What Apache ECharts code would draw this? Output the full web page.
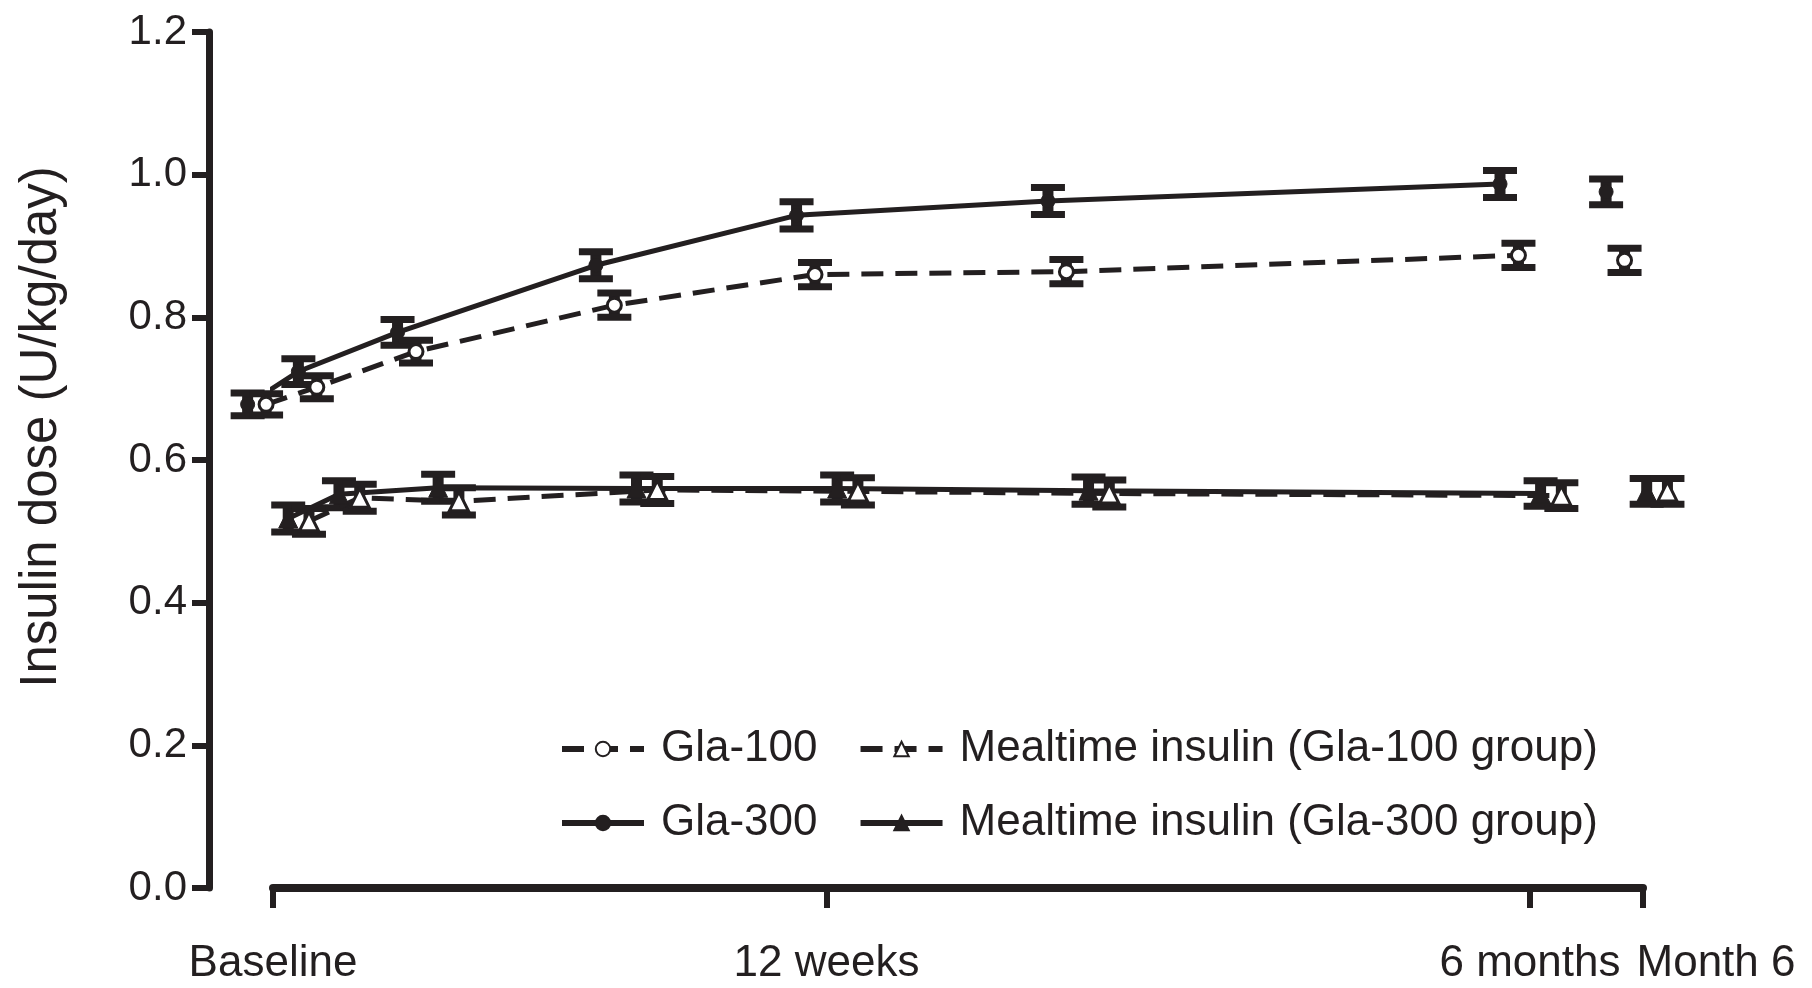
<!DOCTYPE html>
<html>
<head>
<meta charset="utf-8">
<script src="https://cdn.jsdelivr.net/npm/echarts@6/dist/echarts.min.js"></script>
<style>
    html, body { margin: 0; padding: 0; background: #fff; }
    #chart { width: 1812px; height: 988px; }
</style>
</head>
<body>
<div id="chart"></div>
<script>
    // time axis: Baseline = 0, 12 weeks = 12 (visits are drawn dodged per group)
    const visitPos = [0.1, 1.2, 3.35, 7.65, 12, 17.45, 27.25, 29.55];
    const tickValues = [0, 12, 27.25, 29.7];
    const tickLabels = ['Baseline', '12 weeks', '6 months', 'Month 6'];

    const names = ['Gla-100', 'Mealtime insulin (Gla-100 group)', 'Gla-300', 'Mealtime insulin (Gla-300 group)'];

    // insulin dose (U/kg/day), mean and SE; the last value (Month 6) is not joined
    const gla100 = [0.678, 0.702, 0.752, 0.817, 0.860, 0.864, 0.887, 0.880];
    const gla100Se = [0.015, 0.016, 0.016, 0.017, 0.017, 0.017, 0.017, 0.017];
    const gla300 = [0.678, 0.724, 0.779, 0.873, 0.943, 0.963, 0.987, 0.976];
    const gla300Se = [0.016, 0.018, 0.018, 0.019, 0.019, 0.019, 0.019, 0.018];
    const meal100 = [0.514, 0.547, 0.542, 0.558, 0.556, 0.553, 0.550, 0.556];
    const meal100Se = [0.018, 0.019, 0.019, 0.019, 0.019, 0.019, 0.018, 0.018];
    const meal300 = [0.518, 0.552, 0.561, 0.560, 0.560, 0.557, 0.553, 0.556];
    const meal300Se = [0.019, 0.019, 0.019, 0.019, 0.019, 0.019, 0.018, 0.018];

    const ink = '#231f20';
    const font = 'Liberation Sans, Arial, sans-serif';
    const lastJoined = 6;

    function lineSeries(name, values, shift, symbol, size, open, dashed) {
        let data = [];
        for (let i = 0; i < values.length; i++) {
            if (i === lastJoined + 1) data.push([visitPos[i] + shift, '-']);
            data.push([visitPos[i] + shift, values[i]]);
        }
        return {
            name: name,
            type: 'line',
            clip: false,
            z: 3,
            symbol: symbol,
            symbolSize: size,
            showAllSymbol: true,
            connectNulls: false,
            itemStyle: {
                color: open ? '#fff' : ink,
                borderColor: ink,
                borderWidth: open ? 3 : 1
            },
            lineStyle: {
                color: ink,
                width: 5,
                type: dashed ? [22, 12] : 'solid'
            },
            data: data
        };
    }

    function errorSeries(values, se, shift) {
        return {
            type: 'custom',
            name: 'se',
            z: 2,
            silent: true,
            data: values.map((v, i) => [visitPos[i] + shift, v - se[i], v + se[i]]),
            renderItem: function (params, api) {
                let lo = api.coord([api.value(0), api.value(1)]);
                let hi = api.coord([api.value(0), api.value(2)]);
                let w = 17;
                let st = { stroke: ink, lineWidth: 7 };
                return {
                    type: 'group',
                    children: [
                        { type: 'line', shape: { x1: lo[0], y1: lo[1], x2: hi[0], y2: hi[1] }, style: { stroke: ink, lineWidth: 11 } },
                        { type: 'line', shape: { x1: lo[0] - w, y1: lo[1], x2: lo[0] + w, y2: lo[1] }, style: st },
                        { type: 'line', shape: { x1: hi[0] - w, y1: hi[1], x2: hi[0] + w, y2: hi[1] }, style: st }
                    ]
                };
            }
        };
    }

    let chart = echarts.init(document.getElementById('chart'));

    let legendBase = {
        left: 554,
        itemWidth: 82,
        itemHeight: 18,
        itemGap: 40,
        lineStyle: { width: 6 },
        textStyle: { fontFamily: font, fontSize: 44, color: ink, padding: [0, 0, 0, 12] }
    };

    let option = {
        animation: false,
        backgroundColor: '#fff',
        grid: { left: 273, right: 169, top: 32, bottom: 100, outerBoundsMode: 'none' },
        legend: [
            Object.assign({}, legendBase, { top: 722, data: [names[0], names[1]] }),
            Object.assign({}, legendBase, { top: 796, data: [names[2], names[3]] })
        ],
        xAxis: {
            type: 'value',
            min: 0,
            max: 29.7,
            splitLine: { show: false },
            axisLine: { lineStyle: { color: ink, width: 8 } },
            axisTick: { customValues: tickValues, length: 20, lineStyle: { color: ink, width: 6 } },
            axisLabel: {
                customValues: tickValues,
                margin: 54,
                fontFamily: font,
                fontSize: 44,
                color: ink,
                formatter: function (v) {
                    let i = tickValues.indexOf(v);
                    if (i === 3) return '{m|' + tickLabels[i] + '}';
                    return tickLabels[i];
                },
                rich: { m: { fontFamily: font, fontSize: 44, color: ink, padding: [0, 0, 0, 146] } }
            }
        },
        yAxis: {
            type: 'value',
            min: 0,
            max: 1.2,
            interval: 0.2,
            offset: 64,
            name: 'Insulin dose (U/kg/day)',
            nameLocation: 'middle',
            nameGap: 142,
            nameTextStyle: { fontFamily: font, fontSize: 51, color: ink, padding: [0, 0, 0, 66] },
            splitLine: { show: false },
            axisLine: { show: true, onZero: false, lineStyle: { color: ink, width: 7 } },
            axisTick: { show: true, length: 17, lineStyle: { color: ink, width: 6 } },
            axisLabel: {
                margin: 22,
                fontFamily: font,
                fontSize: 42,
                color: ink,
                formatter: function (v) { return v.toFixed(1); }
            }
        },
        series: [
            errorSeries(gla300, gla300Se, -0.65),
            errorSeries(gla100, gla100Se, -0.25),
            errorSeries(meal300, meal300Se, 0.23),
            errorSeries(meal100, meal100Se, 0.68),
            lineSeries(names[2], gla300, -0.65, 'circle', 14, false, false),
            lineSeries(names[0], gla100, -0.25, 'circle', 14, true, true),
            lineSeries(names[3], meal300, 0.23, 'triangle', 19, false, false),
            lineSeries(names[1], meal100, 0.68, 'triangle', 19, true, true)
        ]
    };
    chart.setOption(option);
</script>
</body>
</html>
